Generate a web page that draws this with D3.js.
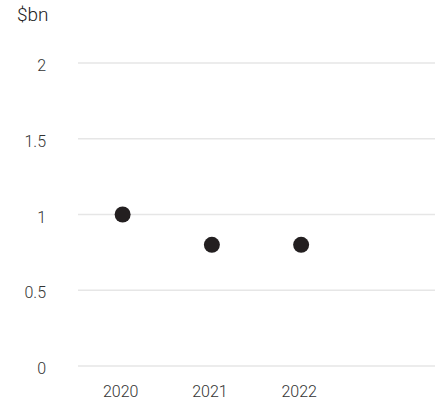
<!DOCTYPE html>
<html><head><meta charset="utf-8">
<script src="https://cdn.jsdelivr.net/npm/d3@7"></script>
<style>body{margin:0;background:#fff;}svg{display:block;font-family:Roboto,"Noto Sans",sans-serif;}</style>
</head><body>
<svg id="chart" width="437" height="401"></svg>
<script>
const slots = ["2020", "2021", "2022", "2023"];
const categories = ["2020", "2021", "2022"];
const values = [1.0, 0.8, 0.8];
const yTicks = [0, 0.5, 1, 1.5, 2];
const yTickLabels = ["0", "0.5", "1", "1.5", "2"];
const unitLabel = "$bn";

const svg = d3.select("#chart");
const x = d3.scaleBand().domain(slots).range([78, 435]);
const y = d3.scaleLinear().domain([0, 2]).range([366, 63]);

svg.append("g").selectAll("line").data(yTicks).join("line")
  .attr("x1", 78).attr("x2", 435)
  .attr("y1", d => y(d)).attr("y2", d => y(d))
  .attr("stroke", "#e6e6e6").attr("stroke-width", 1.5);

svg.append("g").selectAll("text").data(yTicks).join("text")
  .attr("x", 46).attr("y", d => y(d) + 2.5).attr("dy", "0.35em")
  .attr("text-anchor", "end").attr("font-size", 16).attr("font-weight", 300).attr("fill", "#333")
  .text((d, i) => yTickLabels[i]);

svg.append("g").selectAll("text").data(categories).join("text")
  .attr("x", d => x(d) + x.bandwidth() / 2 - 2).attr("y", 391).attr("dy", "0.35em")
  .attr("text-anchor", "middle").attr("font-size", 16).attr("font-weight", 300).attr("fill", "#333")
  .text(d => d);

svg.append("text").attr("x", 17).attr("y", 21)
  .attr("font-size", 19).attr("font-weight", 300).attr("fill", "#222").text(unitLabel);

svg.append("g").selectAll("circle").data(values).join("circle")
  .attr("cx", (d, i) => x(categories[i]) + x.bandwidth() / 2)
  .attr("cy", d => y(d)).attr("r", 8).attr("fill", "#231f20");
</script>
</body></html>
